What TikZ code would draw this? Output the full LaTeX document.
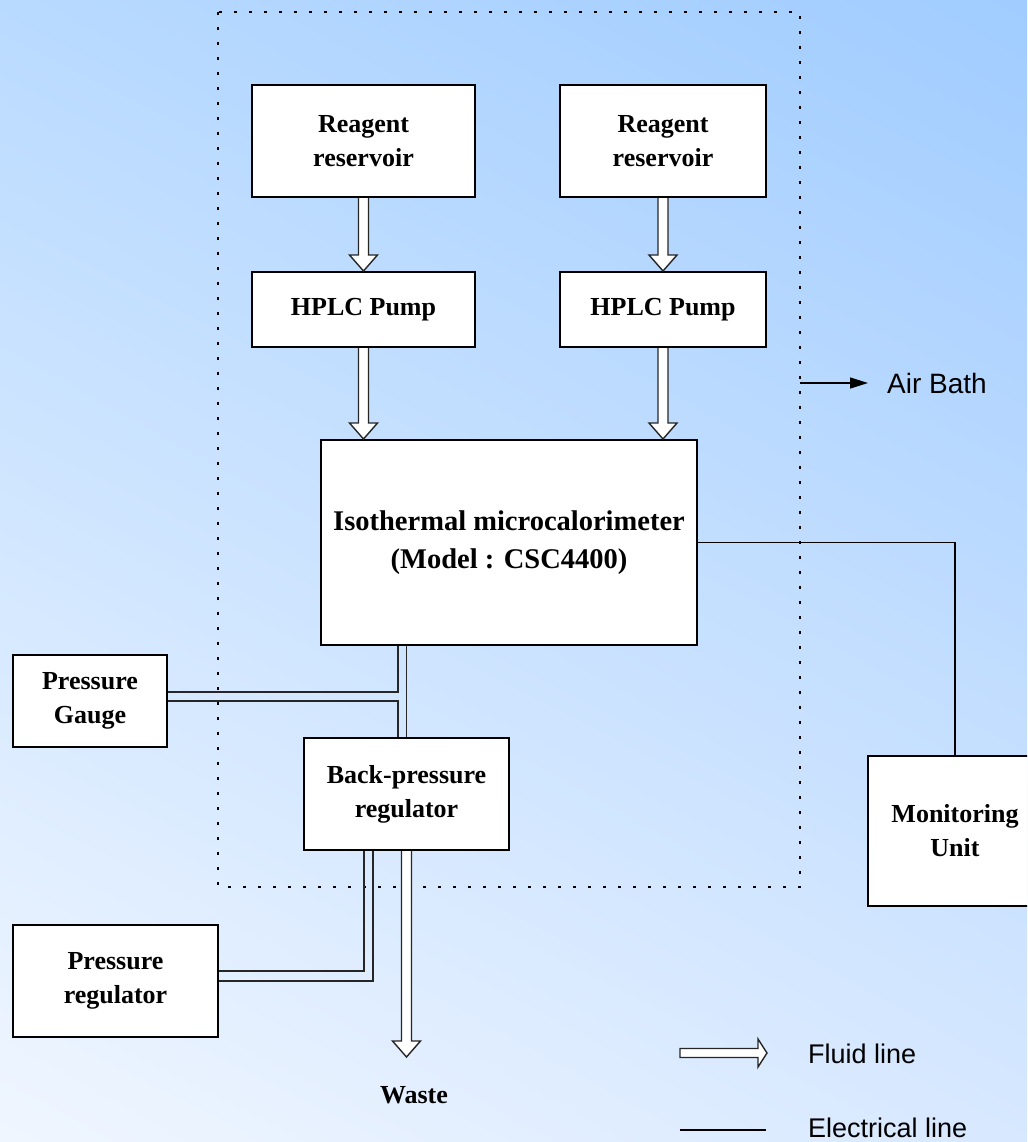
\documentclass[tikz,border=0pt]{standalone}
\usepackage{fontspec}
\setmainfont{Liberation Serif}
\newfontfamily\legendsans{Liberation Sans}
\usetikzlibrary{calc,arrows.meta}
\pgfdeclarefunctionalshading{bgshade}{\pgfpoint{0bp}{0bp}}{\pgfpoint{100bp}{100bp}}{}{
  25 sub 50 div exch 25 sub 50 div exch
  2 copy
  -0.216 mul exch -0.098 mul add 0.941 add
  3 1 roll
  -0.11 mul exch -0.055 mul add 0.965 add
  1
}
\tikzset{
  blk/.style={draw=black, line width=2pt, fill=white, rectangle, inner sep=0pt, align=center,
    font=\fontsize{26}{34}\selectfont\bfseries},
  pipe/.style={draw=black!85, line width=1.4pt},
  fluid/.style={draw=black!85, fill=white, line width=1.4pt, line join=miter},
  elec/.style={draw=black, line width=1.4pt},
  bathframe/.style={draw=black, line width=2.4pt, dash pattern=on 3pt off 12pt},
  legtext/.style={inner sep=0pt, anchor=base west, font=\legendsans\fontsize{27}{32}\selectfont}
}
\newcommand\fluiddown[2]{%
  \draw[fluid] ($(#1)+(-5,0)$) -- ($(#2)+(-5,-16)$) -- ($(#2)+(-14,-16)$) -- (#2)
     -- ($(#2)+(14,-16)$) -- ($(#2)+(5,-16)$) -- ($(#1)+(5,0)$);}
\begin{document}
\begin{tikzpicture}[x=1pt,y=-1pt]
\useasboundingbox (0,0) rectangle (1027,1142);
\shade[shading=bgshade] (0,0) rectangle (1027,1142);

% air bath frame
\draw[bathframe] (218,12) rectangle (800,887);

% blocks
\node[blk, minimum width=223, minimum height=112] (r1) at (363.5,141) {Reagent\\reservoir};
\node[blk, minimum width=206, minimum height=112] (r2) at (663,141) {Reagent\\reservoir};
\node[blk, minimum width=223, minimum height=75] (p1) at (363.5,309.5) {HPLC Pump};
\node[blk, minimum width=206, minimum height=75] (p2) at (663,309.5) {HPLC Pump};
\node[blk, minimum width=376, minimum height=205, font=\fontsize{28.5}{38}\selectfont\bfseries] (cal) at (509,542.5)
  {Isothermal microcalorimeter\\(Model : CSC4400)};
\node[blk, minimum width=154, minimum height=92] (gauge) at (90,701) {Pressure\\Gauge};
\node[blk, minimum width=205, minimum height=112] (bpr) at (406.5,794) {Back-pressure\\regulator};
\node[blk, minimum width=205, minimum height=112] (preg) at (115.5,981) {Pressure\\regulator};
\begin{scope}
  \clip (0,0) rectangle (1027,1142);
  \node[blk, minimum width=174, minimum height=150] (mon) at (955,831) {Monitoring\\Unit};
\end{scope}
\node[inner sep=0pt, font=\fontsize{26}{34}\selectfont\bfseries] (waste) at (414,1095) {Waste};

% fluid arrows
\coordinate (c1) at (p1.south |- cal.north);
\coordinate (c2) at (p2.south |- cal.north);
\coordinate (wtip) at ($(bpr.south)+(0,206)$);
\fluiddown{r1.south}{p1.north}
\fluiddown{r2.south}{p2.north}
\fluiddown{p1.south}{c1}
\fluiddown{p2.south}{c2}
\fluiddown{bpr.south}{wtip}

% pipes (double thin lines)
\coordinate (tl) at ($(bpr.north)+(-8.5,0)$);
\draw[pipe] ($(gauge.east)+(0,-9)$) -| (tl |- cal.south);
\draw[pipe] (gauge.east) -| (tl);
\draw[pipe] (bpr.north |- cal.south) -- (bpr.north);
\draw[pipe] ($(preg.east)+(0,-10)$) -| ($(bpr.south)+(-42.5,0)$);
\draw[pipe] (preg.east) -| ($(bpr.south)+(-33.5,0)$);

% electrical line
\draw[elec] (cal.east) -| (mon.north);

% air bath label
\coordinate (abstart) at (800,383);
\node[legtext, font=\legendsans\fontsize{28}{32}\selectfont] (air) at (887,393) {Air Bath};
\draw[elec, -{Triangle[length=18pt,width=11pt]}] (abstart) -- (868,383);

% legend
\coordinate (lfa) at (680,1053);
\coordinate (lfb) at (767,1053);
\draw[fluid] ($(lfa)+(0,-4.5)$) -- ($(lfb)+(-9,-4.5)$) -- ($(lfb)+(-9,-14)$) -- (lfb)
  -- ($(lfb)+(-9,14)$) -- ($(lfb)+(-9,4.5)$) -- ($(lfa)+(0,4.5)$) -- cycle;
\node[legtext] (fl) at (808,1063) {Fluid line};
\coordinate (le1) at (680,1130);
\coordinate (le2) at (766,1130);
\draw[elec] (le1) -- (le2);
\node[legtext] (el) at (808,1137) {Electrical line};
\end{tikzpicture}
\end{document}
